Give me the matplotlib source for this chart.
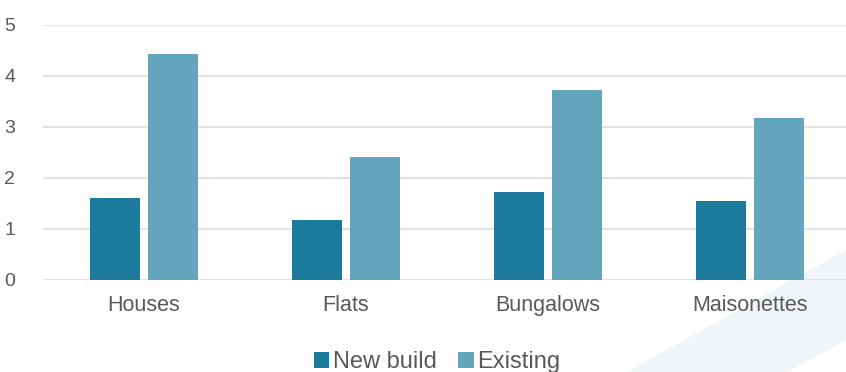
import numpy as np
import matplotlib
matplotlib.use("Agg")
import matplotlib.pyplot as plt
from matplotlib.patches import Polygon

plt.rcParams["font.family"] = ["Liberation Sans", "DejaVu Sans"]

categories = ["Houses", "Flats", "Bungalows", "Maisonettes"]
new_build = [1.61, 1.18, 1.73, 1.55]
existing = [4.43, 2.41, 3.72, 3.18]
y_ticks = [0, 1, 2, 3, 4, 5]

c_new = "#1c7b9d"
c_existing = "#62a5bd"
label_grey = "#595959"

fig = plt.figure(figsize=(8.46, 3.72), dpi=100)

# light decorative band behind the chart, bottom right
band = Polygon(
    [(627 / 846, 0.0), (1.0, 1 - 250 / 372), (1.0, 1 - 340 / 372), (787 / 846, 0.0)],
    closed=True, transform=fig.transFigure, facecolor="#f0f5f8",
    edgecolor="none", zorder=-1,
)
fig.patches.append(band)

ax = fig.add_axes([43 / 846, 1 - 280 / 372, 808 / 846, (280 - 24.7) / 372])
ax.patch.set_alpha(0)
ax.set_zorder(2)

x = np.arange(len(categories))
w = 0.252
off = (w + 0.035) / 2
ax.bar(x - off, new_build, w, color=c_new, label="New build", zorder=3)
ax.bar(x + off, existing, w, color=c_existing, label="Existing", zorder=3)

ax.set_xlim(-0.5, len(categories) - 0.5)
ax.set_ylim(0, 5)
ax.set_yticks(y_ticks)
ax.set_xticks(x)
ax.set_xticklabels(categories)
ax.yaxis.grid(True, color="#e2e2e2", linewidth=1.5, zorder=0)
ax.set_axisbelow(True)
for s in ax.spines.values():
    s.set_visible(False)
ax.tick_params(axis="y", length=0, pad=20, labelsize=14, labelcolor=label_grey)
ax.tick_params(axis="x", length=0, pad=11, labelsize=15.5, labelcolor=label_grey)

fig.legend(
    loc="center", bbox_to_anchor=(437 / 846, 1 - 362 / 372), ncol=2,
    frameon=False, fontsize=17, handlelength=0.67, handleheight=0.67,
    handletextpad=0.15, columnspacing=0.9, labelcolor=label_grey,
)

fig.savefig("out.png", dpi=100)
